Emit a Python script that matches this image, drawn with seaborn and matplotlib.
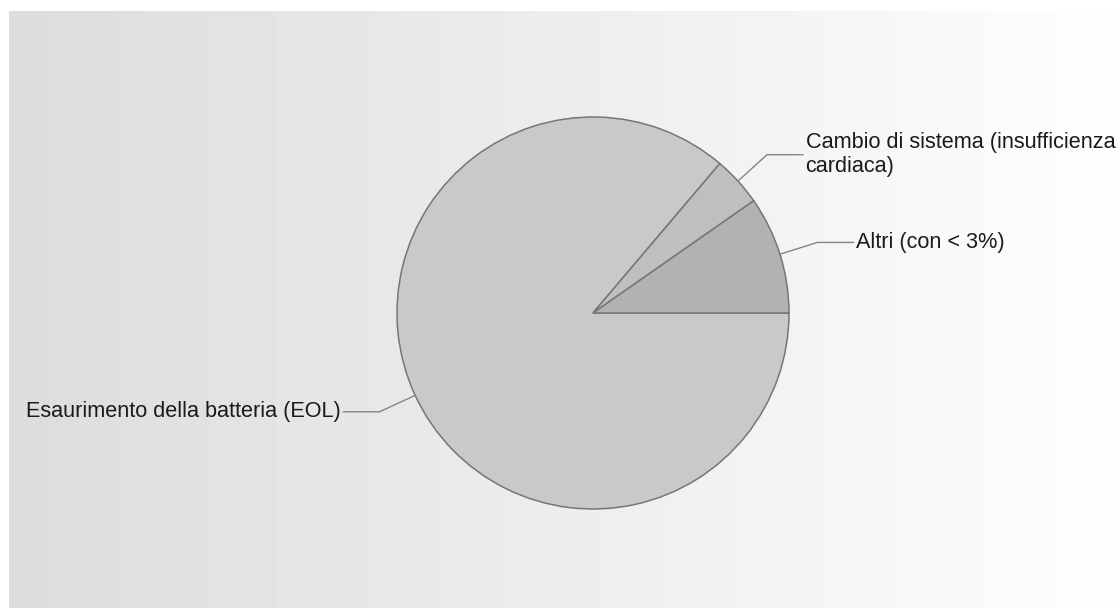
import numpy as np
import matplotlib
matplotlib.use("Agg")
import matplotlib.pyplot as plt
import seaborn as sns

# Data
labels = ["Esaurimento della batteria (EOL)",
          "Cambio di sistema (insufficienza\ncardiaca)",
          "Altri (con < 3%)"]
values = [86.2, 4.1, 9.7]
colors = ["#c9c9c9", "#bfbfbf", "#b2b2b2"]

sns.set_style("white")
plt.rcParams['font.family'] = ['Liberation Sans', 'DejaVu Sans']

W, H = 1120, 608
fig = plt.figure(figsize=(11.2, 6.08), dpi=100, facecolor="white")

# gradient background
bg = fig.add_axes([9 / W, 0, 1 - 9 / W, (H - 11) / H])
grad = np.linspace(220, 254, 256) / 255
bg.imshow(np.tile(grad, (2, 1)), cmap="gray", vmin=0, vmax=1,
          aspect="auto", extent=[0, 1, 0, 1], interpolation="bilinear")
bg.axis("off")

cx, cy, r = 593, 313, 196
ax = fig.add_axes([(cx - r) / W, (H - cy - r) / H, 2 * r / W, 2 * r / H])
ax.patch.set_alpha(0)
wedges, _ = ax.pie(values, colors=colors, startangle=0, counterclock=False,
                   wedgeprops=dict(edgecolor="#767676", linewidth=1.1))
ax.set_xlim(-1, 1)
ax.set_ylim(-1, 1)
ax.axis("off")

for w, lab in zip(wedges, labels):
    ang = np.deg2rad((w.theta1 + w.theta2) / 2)
    x0, y0 = np.cos(ang), np.sin(ang)
    x1, y1 = 1.2 * x0, 1.2 * y0
    side = 1 if x0 >= 0 else -1
    x2 = x1 + side * 0.185
    ax.plot([x0, x1, x2], [y0, y1, y1], color="#858585", lw=1, clip_on=False)
    ax.text(x2 + side * 0.012, y1, lab, ha="left" if side > 0 else "right",
            va="center", fontsize=15.6, color="#1a1a1a", linespacing=1.2,
            clip_on=False)

fig.savefig("out.png", dpi=100, facecolor="white")
